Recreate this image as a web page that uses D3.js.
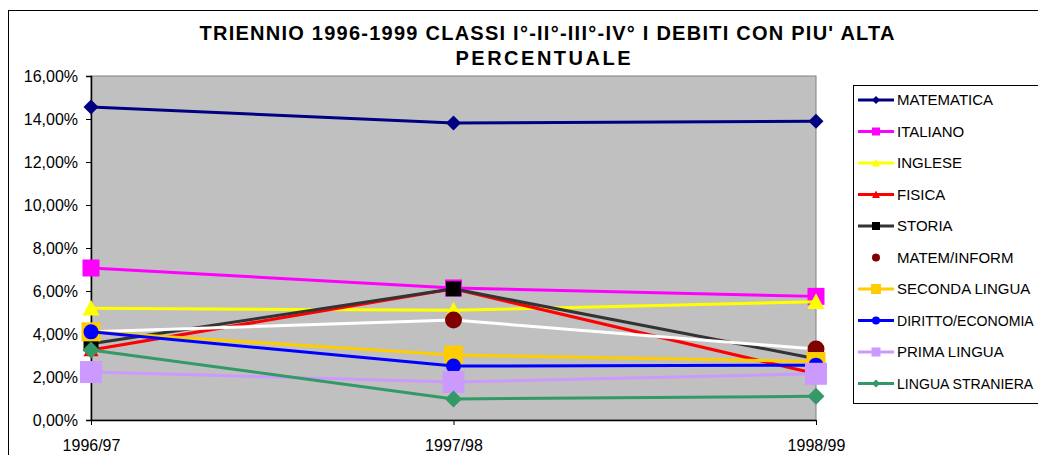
<!DOCTYPE html>
<html><head><meta charset="utf-8">
<script src="https://cdn.jsdelivr.net/npm/d3@7/dist/d3.min.js"></script>
<style>body{margin:0;background:#fff}svg{display:block;font-family:"Liberation Sans",Arial,sans-serif}</style>
</head><body><svg id="c" width="1038" height="455"></svg>
<script>
const categories = ["1996/97","1997/98","1998/99"];
const seriesNames = ["MATEMATICA","ITALIANO","INGLESE","FISICA","STORIA","MATEM/INFORM","SECONDA LINGUA","DIRITTO/ECONOMIA","PRIMA LINGUA","LINGUA STRANIERA"];
const matematica = [14.56, 13.81, 13.9];
const italiano = [7.07, 6.14, 5.75];
const inglese = [5.2, 5.1, 5.5];
const fisica = [3.26, 6.1, 2.15];
const storia = [3.55, 6.1, 2.85];
const matemInform = [4.1, 4.65, 3.3];
const secondaLingua = [4.1, 3.02, 2.72];
const dirittoEconomia = [4.1, 2.51, 2.55];
const primaLingua = [2.23, 1.77, 2.15];
const linguaStraniera = [3.26, 0.98, 1.1];
const yTicks = [0,2,4,6,8,10,12,14,16];
const titleLines = ["TRIENNIO 1996-1999 CLASSI I°-II°-III°-IV° I DEBITI CON PIU' ALTA","PERCENTUALE"];

const values = [matematica, italiano, inglese, fisica, storia, matemInform, secondaLingua, dirittoEconomia, primaLingua, linguaStraniera];
const styles = [
  {line:"#000080", fill:"#000080", shape:"diamond", size:15, lsize:8},
  {line:"#FF00FF", fill:"#FF00FF", shape:"square", size:17, lsize:8},
  {line:"#FFFF00", fill:"#FFFF00", shape:"triangle", size:17, lsize:8},
  {line:"#FF0000", fill:"#FF0000", shape:"triangle", size:15, lsize:8},
  {line:"#333333", fill:"#000000", shape:"square", size:15, lsize:8},
  {line:"#FFFFFF", fill:"#800000", shape:"circle", size:17, lsize:8},
  {line:"#FFCC00", fill:"#FFCC00", shape:"square", size:19, lsize:10},
  {line:"#0000FF", fill:"#0000FF", shape:"circle", size:15, lsize:8},
  {line:"#CC99FF", fill:"#CC99FF", shape:"square", size:22, lsize:9},
  {line:"#339966", fill:"#339966", shape:"diamond", size:17, lsize:8}
];

const svg = d3.select("#c");
svg.append("rect").attr("x",8.5).attr("y",10.5).attr("width",1040).attr("height",460)
  .attr("fill","#fff").attr("stroke","#000").attr("stroke-width",1);

const L=91, R=816, T=76, B=420;
const x = d3.scalePoint().domain(categories).range([L,R]).padding(0);
const y = d3.scaleLinear().domain([0,16]).range([B,T]);

svg.append("rect").attr("x",L).attr("y",T).attr("width",R-L).attr("height",B-T)
  .attr("fill","#C0C0C0").attr("stroke","#808080").attr("stroke-width",1);

// title
const titleY = [39.5, 64.5], titleW = [695, 175], titleX = [547, 543];
titleLines.forEach((t,i)=>svg.append("text").attr("text-anchor","middle").attr("font-weight","bold")
  .attr("font-size",20).attr("fill","#000").attr("x",titleX[i]).attr("y",titleY[i])
  .attr("textLength",titleW[i]).attr("lengthAdjust","spacing").text(t));

// y axis
const yAxis = svg.append("g").attr("transform",`translate(${L},0)`)
  .call(d3.axisLeft(y).tickValues(yTicks).tickSize(5).tickPadding(8)
    .tickFormat(d=>d3.format(".2f")(d).replace(".",",")+"%"));
yAxis.select(".domain").attr("stroke","#000").attr("stroke-width",1.5);
yAxis.selectAll(".tick line").attr("stroke","#000");
yAxis.selectAll("text").attr("font-size",16).attr("font-family","Liberation Sans, Arial, sans-serif").attr("fill","#000");

// x axis
const xAxis = svg.append("g").attr("transform",`translate(0,${B})`)
  .call(d3.axisBottom(x).tickSize(5).tickSizeOuter(0).tickPadding(15));
xAxis.select(".domain").attr("stroke","#000").attr("stroke-width",1.5);
xAxis.selectAll(".tick line").attr("stroke","#000");
xAxis.selectAll("text").attr("font-size",16).attr("font-family","Liberation Sans, Arial, sans-serif").attr("fill","#000");

function marker(g, shape, size, color, cx, cy){
  const h=size/2;
  if(shape==="square") g.append("rect").attr("x",cx-h).attr("y",cy-h).attr("width",size).attr("height",size).attr("fill",color);
  else if(shape==="circle") g.append("circle").attr("cx",cx).attr("cy",cy).attr("r",h).attr("fill",color);
  else if(shape==="diamond") g.append("path").attr("d",`M${cx},${cy-h}L${cx+h},${cy}L${cx},${cy+h}L${cx-h},${cy}Z`).attr("fill",color);
  else if(shape==="triangle") g.append("path").attr("d",`M${cx},${cy-h}L${cx+h},${cy+h*0.85}L${cx-h},${cy+h*0.85}Z`).attr("fill",color);
}

const line = d3.line().x((d,i)=>x(categories[i])).y(d=>y(d));
values.forEach((vals,si)=>{
  const st=styles[si];
  const g=svg.append("g");
  g.append("path").attr("d",line(vals)).attr("fill","none").attr("stroke",st.line).attr("stroke-width",3);
  vals.forEach((v,i)=>marker(g, st.shape, st.size, st.fill, x(categories[i]), y(v)));
});

// legend
svg.append("rect").attr("x",853.5).attr("y",85.5).attr("width",200).attr("height",318)
  .attr("fill","#fff").attr("stroke","#000").attr("stroke-width",1);
const maxTextW = 1034 - 897;
seriesNames.forEach((n,i)=>{
  const cy=100+i*31.5;
  const st=styles[i];
  const g=svg.append("g");
  g.append("line").attr("x1",858).attr("x2",894).attr("y1",cy).attr("y2",cy).attr("stroke",st.line).attr("stroke-width",3);
  marker(g, st.shape, st.lsize, st.fill, 876, cy);
  const t = g.append("text").attr("x",897).attr("y",cy+5.3).attr("font-size",15).attr("fill","#000").text(n);
  const w = t.node().getComputedTextLength();
  if (w > maxTextW) t.attr("font-size", Math.floor(15*maxTextW/w*10)/10);
});
</script></body></html>
